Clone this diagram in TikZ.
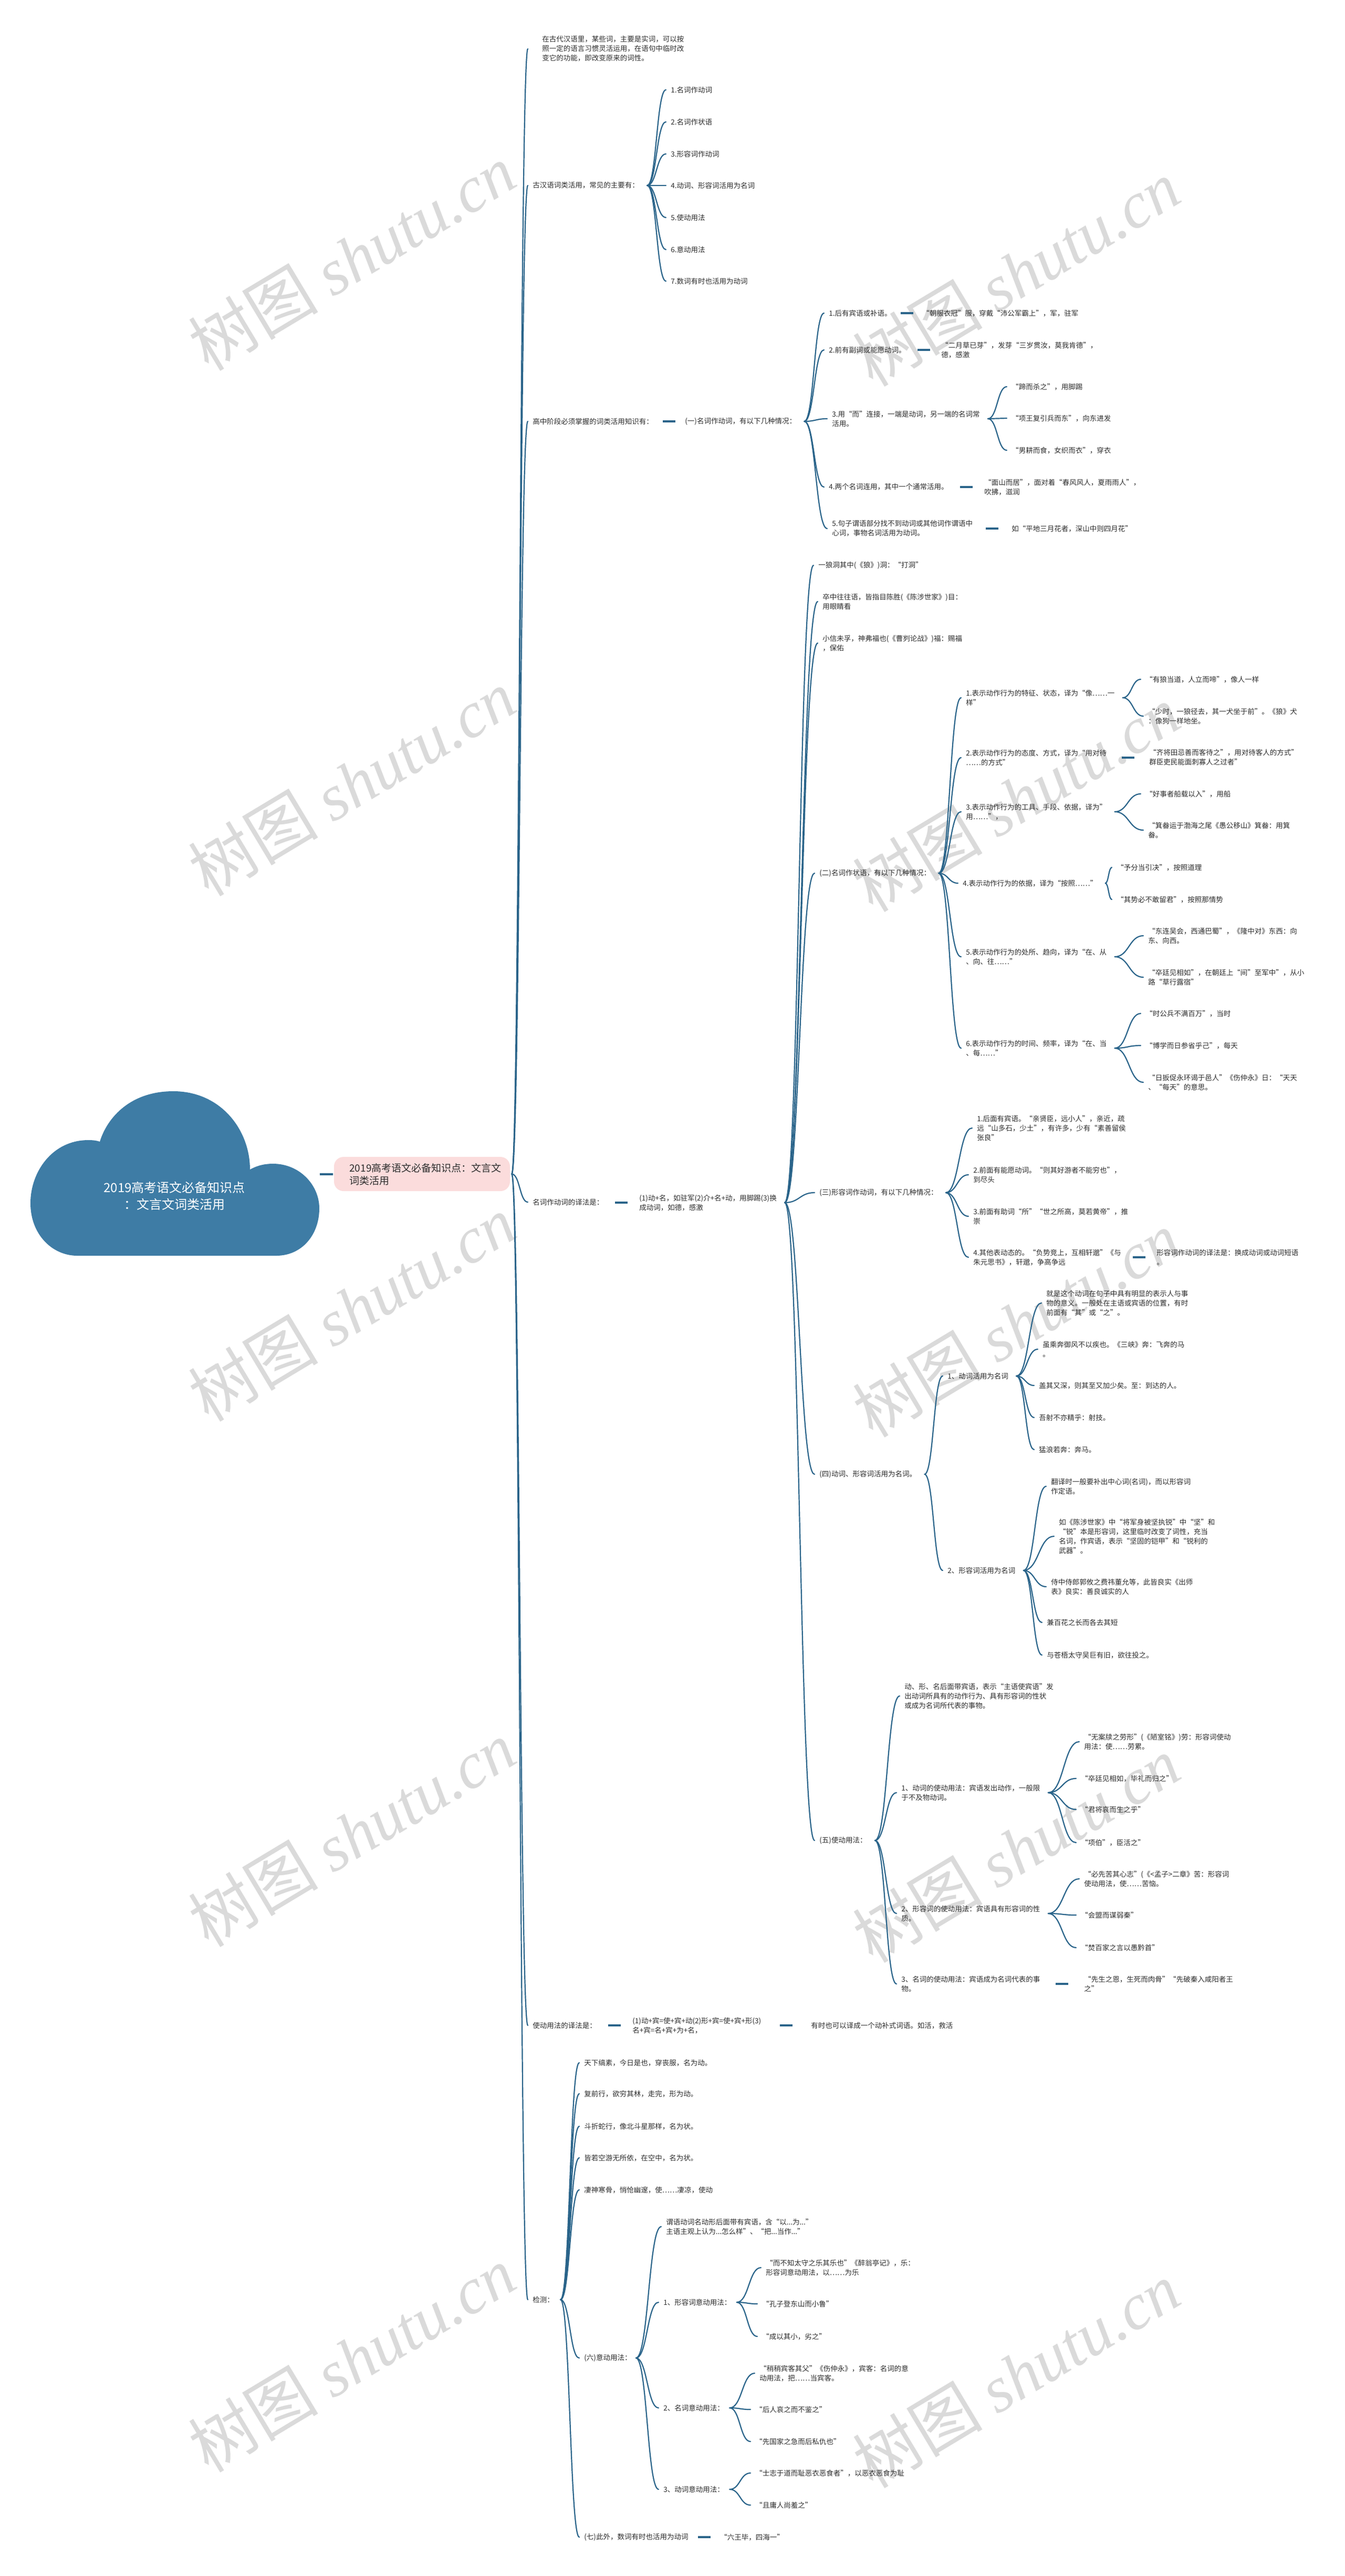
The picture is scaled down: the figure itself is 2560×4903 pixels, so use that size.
\documentclass[tikz,border=0pt]{standalone}
\usepackage{fontspec}
\setmainfont{Noto Sans CJK SC}
\newfontfamily\wmlat{Liberation Serif}
\usetikzlibrary{calc}
\definecolor{txt}{RGB}{45,45,45}
\definecolor{lnc}{RGB}{42,100,138}
\definecolor{cloudc}{RGB}{62,124,165}
\definecolor{pinkc}{RGB}{251,220,220}
\definecolor{wmc}{RGB}{218,218,218}
\tikzset{
 tx/.style={font=\fontsize{6.75}{9}\selectfont, text=txt, anchor=west, align=left, inner sep=0pt},
 conn/.style={draw=lnc, line width=1.1pt, line cap=round},
 dashc/.style={draw=lnc, line width=2pt},
 wm/.style={text=wmc, font=\fontsize{62}{62}\selectfont, rotate=31, inner sep=0pt},
}
\newcommand\cvx[4]{\draw[conn] let \p1=($(#1.east)+(#3,0)$), \p2=($(#2.west)+(-#4,0)$) in (\p1) .. controls ($(\p1)!0.5!(\x2,\y1)$) and ($(\p2)!0.5!(\x1,\y2)$) .. (\p2);}
\newcommand\cv[2]{\cvx{#1}{#2}{15}{9}}
\newcommand\ds[2]{\draw[dashc] ($(#1.east)!0.5!(#2.west)+(-12,0)$) -- ($(#1.east)!0.5!(#2.west)+(12,0)$);}
\begin{document}
\begin{tikzpicture}[x=0.5pt,y=-0.5pt]
\useasboundingbox (0,0) rectangle (2560,4903);
\fill[white] (0,0) rectangle (2560,4903);
% watermarks
\foreach \k in {0,1,2,3,4}{
 \node[wm] (wr\k) at (1935,520+1000*\k) {树图 {\wmlat\itshape shutu.cn}};
 \node[wm] (wl\k) at (670,490+1000*\k) {树图 {\wmlat\itshape shutu.cn}};
}
% cloud
\fill[cloudc] (147,2390) -- (526,2390) .. controls (575,2390) and (608,2350) .. (608,2300)
  .. controls (608,2255) and (570,2215) .. (520,2215) .. controls (500,2215) and (487,2220) .. (476,2226)
  .. controls (476,2150) and (420,2077) .. (330,2077) .. controls (250,2077) and (205,2125) .. (190,2173)
  .. controls (185,2171) and (178,2170) .. (168,2170) .. controls (100,2170) and (58,2230) .. (58,2290)
  .. controls (58,2350) and (100,2390) .. (147,2390) -- cycle;
\node (root) at (332,2276) [text=white, font=\fontsize{12}{16}\selectfont, align=center, inner sep=0pt] {2019高考语文必备知识点\\：文言文词类活用};
\node (sub) [fill=pinkc, rounded corners=9pt, minimum width=167.5pt, minimum height=32.5pt, inner sep=0pt] at (803.5,2234.5) {};
\node[tx, font=\fontsize{9.5}{12}\selectfont] (subt) at (665,2235) {2019高考语文必备知识点：文言文\\词类活用};
\draw[dashc] ($(sub.west)+(-27,0)$) -- ($(sub.west)+(-2,0)$);

% level 1
\node[tx] (A) at (1032,93) {在古代汉语里，某些词，主要是实词，可以按\\照一定的语言习惯灵活运用，在语句中临时改\\变它的功能，即改变原来的词性。};
\node[tx] (B) at (1014,353) {古汉语词类活用，常见的主要有：};
\node[tx] (C) at (1014,802) {高中阶段必须掌握的词类活用知识有：};
\node[tx] (D) at (1014,2288) {名词作动词的译法是：};
\node[tx] (E) at (1014,3855) {使动用法的译法是：};
\node[tx] (F) at (1014,4377) {检测：};
\cvx{sub}{A}{3}{27}
\foreach \q in {B,C,D,E,F}{\cvx{sub}{\q}{3}{9}}

% B
\node[tx] (B1) at (1277,171) {1.名词作动词};
\node[tx] (B2) at (1277,232) {2.名词作状语};
\node[tx] (B3) at (1277,293) {3.形容词作动词};
\node[tx] (B4) at (1277,353) {4.动词、形容词活用为名词};
\node[tx] (B5) at (1277,414) {5.使动用法};
\node[tx] (B6) at (1277,475) {6.意动用法};
\node[tx] (B7) at (1277,535) {7.数词有时也活用为动词};
\foreach \q in {B1,B2,B3,B4,B5,B6,B7}{\cv{B}{\q}}

% C
\node[tx] (C1) at (1304,802) {(一)名词作动词，有以下几种情况：};
\ds{C}{C1}
\node[tx] (Ca1) at (1578,596) {1.后有宾语或补语。};
\node[tx] (Ca2) at (1578,666) {2.前有副词或能愿动词。};
\node[tx] (Ca3) at (1584,797) {3.用“而”连接，一端是动词，另一端的名词常\\活用。};
\node[tx] (Ca4) at (1578,927) {4.两个名词连用，其中一个通常活用。};
\node[tx] (Ca5) at (1584,1006) {5.句子谓语部分找不到动词或其他词作谓语中\\心词，事物名词活用为动词。};
\foreach \q in {Ca1,Ca2,Ca3,Ca4,Ca5}{\cv{C1}{\q}}
\node[tx] (Ca1x) at (1756,596) {“朝服衣冠”服，穿戴“沛公军霸上”，军，驻军};
\node[tx] (Ca2x) at (1792,666) {“二月草已芽”，发芽“三岁贯汝，莫我肯德”，\\德，感激};
\node[tx] (Ca3a) at (1926,736) {“蹄而杀之”，用脚踢};
\node[tx] (Ca3b) at (1926,796) {“项王复引兵而东”，向东进发};
\node[tx] (Ca3c) at (1926,857) {“男耕而食，女织而衣”，穿衣};
\node[tx] (Ca4x) at (1874,927) {“面山而居”，面对着“春风风人，夏雨雨人”，\\吹拂，滋润};
\node[tx] (Ca5x) at (1926,1006) {如“平地三月花者，深山中则四月花”};
\ds{Ca1}{Ca1x} \ds{Ca2}{Ca2x} \ds{Ca4}{Ca4x} \ds{Ca5}{Ca5x}
\foreach \q in {Ca3a,Ca3b,Ca3c}{\cv{Ca3}{\q}}

% D
\node[tx] (D1) at (1217,2289) {(1)动+名，如驻军(2)介+名+动，用脚踢(3)换\\成动词，如德，感激};
\ds{D}{D1}
\node[tx] (Db1) at (1558,1076) {一狼洞其中(《狼》)洞：“打洞”};
\node[tx] (Db2) at (1566,1145) {卒中往往语，皆指目陈胜(《陈涉世家》)目：\\用眼睛看};
\node[tx] (Db3) at (1566,1224) {小信未孚，神弗福也(《曹刿论战》)福：赐福\\，保佑};
\node[tx] (Db4) at (1560,1662) {(二)名词作状语，有以下几种情况：};
\node[tx] (Db5) at (1560,2270) {(三)形容词作动词，有以下几种情况：};
\node[tx] (Db6) at (1560,2806) {(四)动词、形容词活用为名词。};
\node[tx] (Db7) at (1560,3503) {(五)使动用法：};
\foreach \q in {Db1,Db2,Db3,Db4,Db5,Db6,Db7}{\cv{D1}{\q}}

% (二)
\node[tx] (Dc1) at (1839,1328) {1.表示动作行为的特征、状态，译为“像……一\\样”};
\node[tx] (Dc2) at (1839,1442) {2.表示动作行为的态度、方式，译为“用对待\\……的方式”};
\node[tx] (Dc3) at (1839,1545) {3.表示动作行为的工具、手段、依据，译为”\\用……”，};
\node[tx] (Dc4) at (1833,1681) {4.表示动作行为的依据，译为“按照……”};
\node[tx] (Dc5) at (1839,1821) {5.表示动作行为的处所、趋向，译为“在、从\\、向、往……”};
\node[tx] (Dc6) at (1839,1995) {6.表示动作行为的时间、频率，译为“在、当\\、每……”};
\foreach \q in {Dc1,Dc2,Dc3,Dc4,Dc5,Dc6}{\cv{Db4}{\q}}
\node[tx] (Dc1a) at (2181,1293) {“有狼当道，人立而啼”，像人一样};
\node[tx] (Dc1b) at (2186,1363) {“少时，一狼径去，其一犬坐于前”。《狼》犬\\：像狗一样地坐。};
\node[tx] (Dc2x) at (2188,1441) {“齐将田忌善而客待之”，用对待客人的方式”\\群臣吏民能面刺寡人之过者”};
\node[tx] (Dc3a) at (2181,1511) {“好事者船载以入”，用船};
\node[tx] (Dc3b) at (2186,1580) {“箕畚运于渤海之尾《愚公移山》箕畚：用箕\\畚。};
\node[tx] (Dc4a) at (2126,1651) {“予分当引决”，按照道理};
\node[tx] (Dc4b) at (2126,1712) {“其势必不敢留君”，按照那情势};
\node[tx] (Dc5a) at (2186,1781) {“东连吴会，西通巴蜀”，《隆中对》东西：向\\东、向西。};
\node[tx] (Dc5b) at (2186,1860) {“卒廷见相如”，在朝廷上“间”至军中”，从小\\路“草行露宿”};
\node[tx] (Dc6a) at (2181,1929) {“时公兵不满百万”，当时};
\node[tx] (Dc6b) at (2181,1990) {“博学而日参省乎己”，每天};
\node[tx] (Dc6c) at (2186,2060) {“日扳促永环谒于邑人”《伤仲永》日：“天天\\、“每天”的意思。};
\cv{Dc1}{Dc1a} \cv{Dc1}{Dc1b} \ds{Dc2}{Dc2x}
\cv{Dc3}{Dc3a} \cv{Dc3}{Dc3b}
\cv{Dc4}{Dc4a} \cv{Dc4}{Dc4b}
\cv{Dc5}{Dc5a} \cv{Dc5}{Dc5b}
\cv{Dc6}{Dc6a} \cv{Dc6}{Dc6b} \cv{Dc6}{Dc6c}

% (三)
\node[tx] (Dd1) at (1860,2147) {1.后面有宾语。“亲贤臣，远小人”，亲近，疏\\远“山多石，少土”，有许多，少有“素善留侯\\张良”};
\node[tx] (Dd2) at (1853,2236) {2.前面有能愿动词。“则其好游者不能穷也”，\\到尽头};
\node[tx] (Dd3) at (1853,2315) {3.前面有助词“所”“世之所高，莫若黄帝”，推\\崇};
\node[tx] (Dd4) at (1853,2393) {4.其他表动态的。“负势竞上，互相轩邈”《与\\朱元思书》，轩邈，争高争远};
\foreach \q in {Dd1,Dd2,Dd3,Dd4}{\cv{Db5}{\q}}
\node[tx] (Dd4x) at (2202,2393) {形容词作动词的译法是：换成动词或动词短语\\。};
\ds{Dd4}{Dd4x}

% (四)
\node[tx] (De1) at (1804,2619) {1、动词活用为名词};
\node[tx] (De2) at (1804,2989) {2、形容词活用为名词};
\cv{Db6}{De1} \cv{Db6}{De2}
\node[tx] (De1a) at (1992,2480) {就是这个动词在句子中具有明显的表示人与事\\物的意义。一般处在主语或宾语的位置，有时\\前面有“其”或“之”。};
\node[tx] (De1b) at (1985,2568) {虽乘奔御风不以疾也。《三峡》奔：飞奔的马\\。};
\node[tx] (De1c) at (1978,2637) {盖其又深，则其至又加少矣。至：到达的人。};
\node[tx] (De1d) at (1978,2698) {吾射不亦精乎：射技。};
\node[tx] (De1e) at (1978,2759) {猛浪若奔：奔马。};
\foreach \q in {De1a,De1b,De1c,De1d,De1e}{\cv{De1}{\q}}
\node[tx] (De2a) at (2001,2829) {翻译时一般要补出中心词(名词)，而以形容词\\作定语。};
\node[tx] (De2b) at (2016,2924) {如《陈涉世家》中“将军身被坚执锐”中“坚”和\\“锐”本是形容词，这里临时改变了词性，充当\\名词，作宾语，表示“坚固的铠甲”和“锐利的\\武器”。};
\node[tx] (De2c) at (2001,3020) {侍中侍郎郭攸之费祎董允等，此皆良实《出师\\表》良实：善良诚实的人};
\node[tx] (De2d) at (1993,3088) {兼百花之长而各去其短};
\node[tx] (De2e) at (1993,3150) {与苍梧太守吴巨有旧，欲往投之。};
\foreach \q in {De2a,De2b,De2c,De2d,De2e}{\cv{De2}{\q}}

% (五)
\node[tx] (Df0) at (1722,3228) {动、形、名后面带宾语，表示“主语使宾语”发\\出动词所具有的动作行为、具有形容词的性状\\或成为名词所代表的事物。};
\node[tx] (Df1) at (1716,3412) {1、动词的使动用法：宾语发出动作，一般限\\于不及物动词。};
\node[tx] (Df2) at (1716,3642) {2、形容词的使动用法：宾语具有形容词的性\\质。};
\node[tx] (Df3) at (1716,3776) {3、名词的使动用法：宾语成为名词代表的事\\物。};
\foreach \q in {Df0,Df1,Df2,Df3}{\cv{Db7}{\q}}
\node[tx] (Df1a) at (2064,3315) {“无案牍之劳形”(《陋室铭》)劳：形容词使动\\用法：使……劳累。};
\node[tx] (Df1b) at (2058,3385) {“卒廷见相如，毕礼而归之”};
\node[tx] (Df1c) at (2058,3444) {“君将哀而生之乎”};
\node[tx] (Df1d) at (2058,3507) {“项伯”，臣活之”};
\foreach \q in {Df1a,Df1b,Df1c,Df1d}{\cv{Df1}{\q}}
\node[tx] (Df2a) at (2064,3576) {“必先苦其心志”(《<孟子>二章》苦：形容词\\使动用法，使……苦恼。};
\node[tx] (Df2b) at (2058,3645) {“会盟而谋弱秦”};
\node[tx] (Df2c) at (2058,3707) {“焚百家之言以愚黔首”};
\foreach \q in {Df2a,Df2b,Df2c}{\cv{Df2}{\q}}
\node[tx] (Df3x) at (2064,3776) {“先生之恩，生死而肉骨”“先破秦入咸阳者王\\之”};
\ds{Df3}{Df3x}

% E
\node[tx] (E1) at (1204,3855) {(1)动+宾=使+宾+动(2)形+宾=使+宾+形(3)\\名+宾=名+宾+为+名，};
\node[tx] (E2) at (1544,3855) {有时也可以译成一个动补式词语。如活，救活};
\ds{E}{E1} \ds{E1}{E2}

% F
\node[tx] (G1) at (1112,3926) {天下缟素，今日是也，穿丧服，名为动。};
\node[tx] (G2) at (1112,3985) {复前行，欲穷其林，走完，形为动。};
\node[tx] (G3) at (1112,4047) {斗折蛇行，像北斗星那样，名为状。};
\node[tx] (G4) at (1112,4107) {皆若空游无所依，在空中，名为状。};
\node[tx] (G5) at (1112,4168) {凄神寒骨，悄怆幽邃，使……凄凉，使动};
\node[tx] (G6) at (1112,4488) {(六)意动用法：};
\node[tx] (G7) at (1112,4829) {(七)此外，数词有时也活用为动词};
\foreach \q in {G1,G2,G3,G4,G5,G6,G7}{\cvx{F}{\q}{12}{9}}
\node[tx] (G7x) at (1371,4829) {“六王毕，四海一”};
\ds{G7}{G7x}
\node[tx] (H0) at (1268,4238) {谓语动词名动形后面带有宾语，含“以...为...”\\主语主观上认为...怎么样”、“把...当作...”};
\node[tx] (H1) at (1263,4382) {1、形容词意动用法：};
\node[tx] (H2) at (1263,4583) {2、名词意动用法：};
\node[tx] (H3) at (1263,4738) {3、动词意动用法：};
\foreach \q in {H0,H1,H2,H3}{\cvx{G6}{\q}{8}{9}}
\node[tx] (H1a) at (1458,4316) {“而不知太守之乐其乐也”《醉翁亭记》，乐：\\形容词意动用法，以……为乐};
\node[tx] (H1b) at (1451,4385) {“孔子登东山而小鲁”};
\node[tx] (H1c) at (1451,4447) {“成以其小，劣之”};
\foreach \q in {H1a,H1b,H1c}{\cvx{H1}{\q}{10}{9}}
\node[tx] (H2a) at (1446,4517) {“稍稍宾客其父”《伤仲永》，宾客：名词的意\\动用法，把……当宾客。};
\node[tx] (H2b) at (1438,4586) {“后人哀之而不鉴之”};
\node[tx] (H2c) at (1438,4647) {“先国家之急而后私仇也”};
\foreach \q in {H2a,H2b,H2c}{\cvx{H2}{\q}{10}{9}}
\node[tx] (H3a) at (1438,4707) {“士志于道而耻恶衣恶食者”，以恶衣恶食为耻};
\node[tx] (H3b) at (1438,4768) {“且庸人尚羞之”};
\foreach \q in {H3a,H3b}{\cvx{H3}{\q}{10}{9}}
\end{tikzpicture}
\end{document}
